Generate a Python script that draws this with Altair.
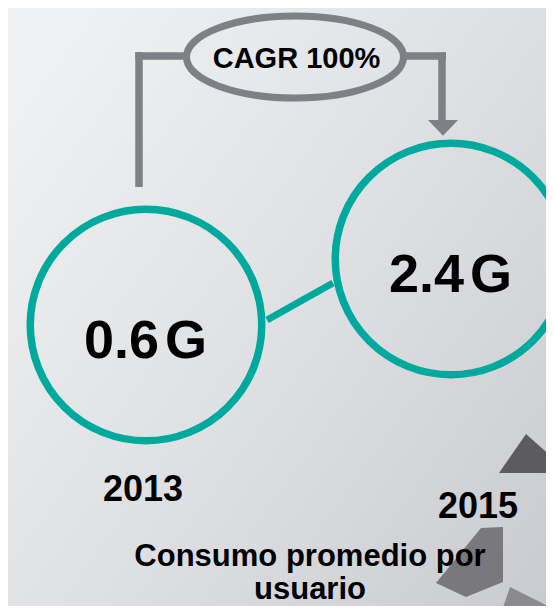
import altair as alt
import pandas as pd

# ---- data ----
years = [2013, 2015]
year_labels = ["2013", "2015"]
values = [0.6, 2.4]
units = ["G", "G"]
cagr_label = "CAGR 100%"
title_lines = ["Consumo promedio por", "usuario"]

TEAL = "#00a99d"
GRAY = "#7f8085"
FONT = "Liberation Sans"

W, H = 538, 598
OX, OY = 8, 8  # page margin offset


def px(x):
    return x - OX


def py(y):
    return y - OY


df = pd.DataFrame({"year": years, "year_label": year_labels, "value": values, "unit": units})
link = pd.DataFrame({"ya": [years[0]], "yb": [years[1]], "va": [values[0]], "vb": [values[1]]})
one = pd.DataFrame({"k": [0]})

x_scale = alt.Scale(domain=[years[0], years[1]], range=[px(146), px(451)], nice=False, zero=False)
y_scale = alt.Scale(domain=[values[0], values[1]], range=[py(325), py(259)], nice=False, zero=False)
X = alt.X("year:Q", scale=x_scale, axis=None)
Y = alt.Y("value:Q", scale=y_scale, axis=None)

# background gradient
bg = alt.Chart(one).mark_rect(
    fill=alt.LinearGradient(
        gradient="linear",
        stops=[
            alt.GradientStop(color="#eef0f1", offset=0),
            alt.GradientStop(color="#dedfe2", offset=0.5),
            alt.GradientStop(color="#cacbd0", offset=1),
        ],
        x1=0, y1=0.2, x2=1, y2=1,
    )
).encode(x=alt.value(0), x2=alt.value(W), y=alt.value(0), y2=alt.value(H))


def seg(x1, y1, x2, y2, width=7.5):
    return alt.Chart(one).mark_rule(color=GRAY, strokeWidth=width).encode(
        x=alt.value(px(x1)), x2=alt.value(px(x2)), y=alt.value(py(y1)), y2=alt.value(py(y2))
    )


bracket = [
    seg(139, 52, 139, 187),
    seg(135.5, 56, 188, 56),
    seg(404, 56, 446, 56),
    seg(442, 52.5, 442, 122),
]

k = 0.5523
ry = 0.378
ELLIPSE = (
    f"M -1 0 C -1 {-k*ry:.4f} {-k:.4f} {-ry} 0 {-ry} "
    f"C {k:.4f} {-ry} 1 {-k*ry:.4f} 1 0 "
    f"C 1 {k*ry:.4f} {k:.4f} {ry} 0 {ry} "
    f"C {-k:.4f} {ry} -1 {k*ry:.4f} -1 0 Z"
)
ellipse = alt.Chart(one).mark_point(
    shape=ELLIPSE, filled=False, size=217 ** 2, strokeWidth=7, color=GRAY, opacity=1
).encode(x=alt.value(px(295)), y=alt.value(py(57)))

cagr = alt.Chart(one).mark_text(
    text=cagr_label, font=FONT, fontSize=29, fontWeight="bold", color="black",
    align="center", baseline="alphabetic",
).encode(x=alt.value(px(296.5)), y=alt.value(py(68)))

arrow = alt.Chart(one).mark_point(
    shape="M -1 -0.5 L 1 -0.5 L 0 0.55 Z", filled=True, size=900, color=GRAY, opacity=1, strokeWidth=0
).encode(x=alt.value(px(443)), y=alt.value(py(127.5)))

# decorative shapes bottom right
deco_a = alt.Chart(one).mark_point(
    shape="M -0.239 -0.549 L -1 0.549 L 1 0.549 Z", filled=True, size=71 ** 2,
    color="#5c5c5f", opacity=1, strokeWidth=0,
).encode(x=alt.value(px(534.5)), y=alt.value(py(453.5)))
deco_b = alt.Chart(one).mark_point(
    shape="M 0.329 -0.971 L 0.957 -1 L 0.957 0.571 L -0.1 1 L -0.957 0.6 Z", filled=True, size=70 ** 2,
    color="#78787d", opacity=1, strokeWidth=0,
).encode(x=alt.value(px(469.5)), y=alt.value(py(562)))
deco_c = alt.Chart(one).mark_point(
    shape="M -0.707 -0.427 L 1 0.427 L -1 0.427 Z", filled=True, size=82 ** 2,
    color="#8a8a8f", opacity=1, strokeWidth=0,
).encode(x=alt.value(px(539)), y=alt.value(py(604.5)))

connector = alt.Chart(link).mark_rule(
    color=TEAL, strokeWidth=7, xOffset=121, yOffset=-5, x2Offset=-118, y2Offset=24
).encode(
    x=alt.X("ya:Q", scale=x_scale, axis=None), x2="yb:Q",
    y=alt.Y("va:Q", scale=y_scale, axis=None), y2="vb:Q",
)

base = alt.Chart(df)
circles = base.mark_point(
    shape="circle", filled=False, size=231.5 ** 2, strokeWidth=7.5, color=TEAL, opacity=1
).encode(x=X, y=Y)

val_num = base.mark_text(
    font=FONT, fontSize=54, fontWeight="bold", color="black", align="right",
    baseline="alphabetic", dx=13, dy=33,
).encode(x=X, y=Y, text=alt.Text("value:Q", format=".1f"))
val_unit = base.mark_text(
    font=FONT, fontSize=54, fontWeight="bold", color="black", align="left",
    baseline="alphabetic", dx=19, dy=33,
).encode(x=X, y=Y, text="unit:N")

yr1 = base.transform_filter(alt.datum.year == years[0]).mark_text(
    font=FONT, fontSize=36, fontWeight="bold", color="black", align="center",
    baseline="alphabetic", dx=-3,
).encode(x=X, y=alt.value(py(501)), text="year_label:N")
yr2 = base.transform_filter(alt.datum.year == years[1]).mark_text(
    font=FONT, fontSize=36, fontWeight="bold", color="black", align="center",
    baseline="alphabetic", dx=27,
).encode(x=X, y=alt.value(py(518)), text="year_label:N")

deco_layers = [deco_a, deco_b, deco_c]

title = alt.Chart(one).mark_text(
    text=title_lines, font=FONT, fontSize=31, fontWeight="bold", color="black",
    align="center", baseline="alphabetic", lineHeight=33,
).encode(x=alt.value(px(310)), y=alt.value(py(566)))

chart = alt.layer(
    bg, *bracket, ellipse, cagr, arrow, *deco_layers, connector, circles,
    val_num, val_unit, yr1, yr2, title,
).properties(
    width=W, height=H, padding=0, autosize=alt.AutoSizeParams(type="none"),
    background="#e4e5e8",
).configure_view(stroke=None)

chart.save("out.html", embed_options={"renderer": "svg", "actions": False})
